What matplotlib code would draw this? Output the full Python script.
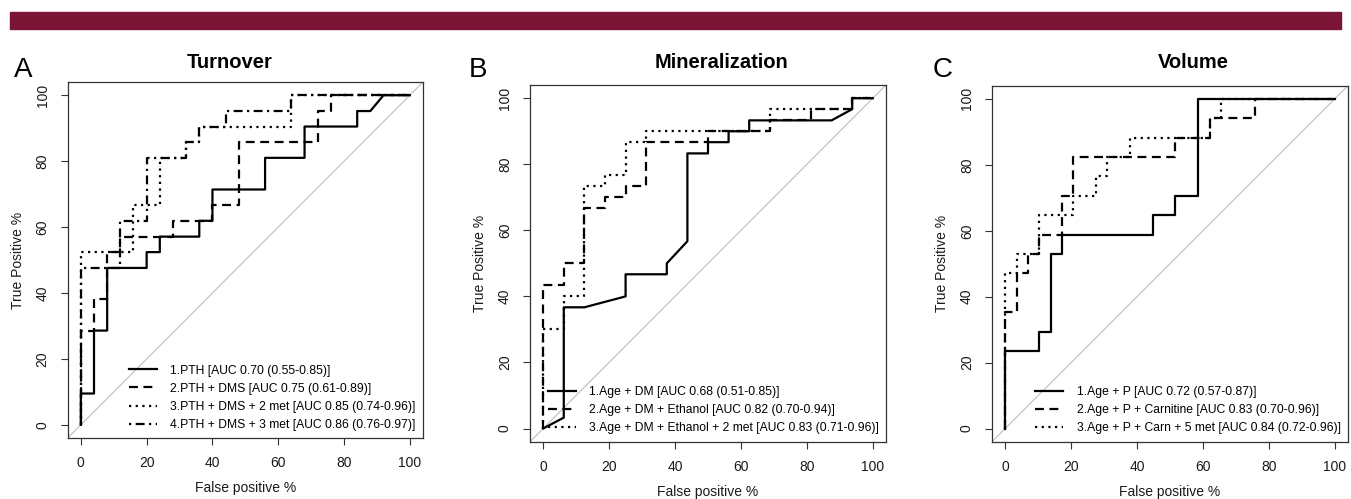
import numpy as np
import matplotlib.pyplot as plt
from matplotlib.patches import Rectangle

plt.rcParams['font.family'] = ['Liberation Sans', 'DejaVu Sans']

# ---- A: Turnover ----
a1_fpr = [0, 0, 4, 4, 8, 8, 20, 20, 24, 24, 36, 36, 40, 40, 56, 56, 68, 68, 84, 84, 88, 92, 100]
a1_tpr = [0, 9.5, 9.5, 28.6, 28.6, 47.6, 47.6, 52.4, 52.4, 57.1, 57.1, 61.9, 61.9, 71.4, 71.4, 81, 81, 90.5, 90.5, 95.2, 95.2, 100, 100]
a2_fpr = [0, 0, 4, 4, 8, 8, 12, 12, 28, 28, 40, 40, 48, 48, 72, 72, 76, 76, 100]
a2_tpr = [0, 28.6, 28.6, 38.1, 38.1, 52.4, 52.4, 57.1, 57.1, 61.9, 61.9, 66.7, 66.7, 85.7, 85.7, 95.2, 95.2, 100, 100]
a3_fpr = [0, 0, 16, 16, 24, 24, 32, 32, 36, 36, 64, 64, 100]
a3_tpr = [0, 52.4, 52.4, 66.7, 66.7, 81, 81, 85.7, 85.7, 90.5, 90.5, 100, 100]
a4_fpr = [0, 0, 12, 12, 20, 20, 32, 32, 36, 36, 44, 44, 64, 64, 100]
a4_tpr = [0, 47.6, 47.6, 61.9, 61.9, 81, 81, 85.7, 85.7, 90.5, 90.5, 95.2, 95.2, 100, 100]
a_labels = ["1.PTH [AUC 0.70 (0.55-0.85)]",
            "2.PTH + DMS [AUC 0.75 (0.61-0.89)]",
            "3.PTH + DMS + 2 met [AUC 0.85 (0.74-0.96)]",
            "4.PTH + DMS + 3 met [AUC 0.86 (0.76-0.97)]"]

# ---- B: Mineralization ----
b1_fpr = [0, 6.25, 6.25, 12.5, 25, 25, 37.5, 37.5, 43.75, 43.75, 50, 50, 56.25, 56.25, 62.5, 62.5, 87.5, 93.75, 93.75, 100]
b1_tpr = [0, 3.3, 36.7, 36.7, 40, 46.7, 46.7, 50, 56.7, 83.3, 83.3, 86.7, 86.7, 90, 90, 93.3, 93.3, 96.7, 100, 100]
b2_fpr = [0, 0, 6.25, 6.25, 12.5, 12.5, 18.75, 18.75, 25, 25, 31.25, 31.25, 50, 50, 68.75, 68.75, 81.25, 81.25, 93.75, 93.75, 100]
b2_tpr = [0, 43.3, 43.3, 50, 50, 66.7, 66.7, 70, 70, 73.3, 73.3, 86.7, 86.7, 90, 90, 93.3, 93.3, 96.7, 96.7, 100, 100]
b3_fpr = [0, 0, 6.25, 6.25, 12.5, 12.5, 18.75, 18.75, 25, 25, 31.25, 31.25, 68.75, 68.75, 93.75, 93.75, 100]
b3_tpr = [0, 30, 30, 40, 40, 73.3, 73.3, 76.7, 76.7, 86.7, 86.7, 90, 90, 96.7, 96.7, 100, 100]
b_labels = ["1.Age + DM [AUC 0.68 (0.51-0.85)]",
            "2.Age + DM + Ethanol [AUC 0.82 (0.70-0.94)]",
            "3.Age + DM + Ethanol + 2 met [AUC 0.83 (0.71-0.96)]"]

# ---- C: Volume ----
c1_fpr = [0, 0, 10.3, 10.3, 13.8, 13.8, 17.2, 17.2, 44.8, 44.8, 51.7, 51.7, 58.6, 58.6, 100]
c1_tpr = [0, 23.5, 23.5, 29.4, 29.4, 52.9, 52.9, 58.8, 58.8, 64.7, 64.7, 70.6, 70.6, 100, 100]
c2_fpr = [0, 0, 3.45, 3.45, 6.9, 6.9, 10.3, 10.3, 17.2, 17.2, 20.7, 20.7, 51.7, 51.7, 62.1, 62.1, 75.9, 75.9, 100]
c2_tpr = [0, 35.3, 35.3, 47.1, 47.1, 52.9, 52.9, 58.8, 58.8, 70.6, 70.6, 82.4, 82.4, 88.2, 88.2, 94.1, 94.1, 100, 100]
c3_fpr = [0, 0, 3.45, 3.45, 10.3, 10.3, 20.7, 20.7, 27.6, 27.6, 31.0, 31.0, 37.9, 37.9, 62.1, 62.1, 65.5, 65.5, 100]
c3_tpr = [0, 47.1, 47.1, 52.9, 52.9, 64.7, 64.7, 70.6, 70.6, 76.5, 76.5, 82.4, 82.4, 88.2, 88.2, 94.1, 94.1, 100, 100]
c_labels = ["1.Age + P [AUC 0.72 (0.57-0.87)]",
            "2.Age + P + Carnitine [AUC 0.83 (0.70-0.96)]",
            "3.Age + P + Carn + 5 met [AUC 0.84 (0.72-0.96)]"]

ticks = [0, 20, 40, 60, 80, 100]
styles = ['-', (0, (4, 2.5)), (0, (1, 2)), (0, (1, 2, 4, 2))]
txt = '#1a1a1a'

fig = plt.figure(figsize=(13.51, 4.99), dpi=100)
fig.patches.append(Rectangle((10 / 1351, 1 - 29 / 499), 1331 / 1351, 17 / 499,
                             transform=fig.transFigure, color='#7a1535', zorder=0))

panels = [
    ([0.0501, 0.1222, 0.2630, 0.7134], 'A', 'Turnover', 230,
     [(a1_fpr, a1_tpr), (a2_fpr, a2_tpr), (a3_fpr, a3_tpr), (a4_fpr, a4_tpr)], a_labels),
    ([0.3923, 0.1148, 0.2635, 0.7148], 'B', 'Mineralization', 722,
     [(b1_fpr, b1_tpr), (b2_fpr, b2_tpr), (b3_fpr, b3_tpr)], b_labels),
    ([0.7343, 0.1148, 0.2633, 0.7134], 'C', 'Volume', 1193,
     [(c1_fpr, c1_tpr), (c2_fpr, c2_tpr), (c3_fpr, c3_tpr)], c_labels),
]
letter_x = {'A': 14, 'B': 469, 'C': 933}

for rect, letter, title, title_x, curves, labels in panels:
    ax = fig.add_axes(rect)
    ax.axline((0, 0), slope=1, color='#c4c4c4', lw=0.9, zorder=1)
    for (fpr, tpr), ls, lab in zip(curves, styles, labels):
        ax.plot(fpr, tpr, color='black', lw=1.6, linestyle=ls, label=lab, zorder=2)
    ax.set_xlim(-4, 104)
    ax.set_ylim(-4, 104)
    ax.set_xticks(ticks)
    ax.set_yticks(ticks)
    ax.tick_params(direction='out', length=5, width=0.8, color='#333333',
                   labelsize=10, labelcolor=txt, pad=8)
    for lab in ax.get_yticklabels():
        lab.set_rotation(90)
        lab.set_va('center')
    for s in ax.spines.values():
        s.set_color('#333333')
        s.set_linewidth(0.9)
    ax.set_xlabel('False positive %', fontsize=10, color=txt, va='center')
    ax.set_ylabel('True Positive %', fontsize=10, color=txt, va='center')
    ax.xaxis.set_label_coords(0.5, -0.14)
    ax.yaxis.set_label_coords(-0.141, 0.5)
    ax.legend(loc='lower right', frameon=False, fontsize=8.7, handlelength=2.3,
              handletextpad=1.1, labelspacing=0.5, borderaxespad=0.4, borderpad=0.2)
    fig.text(title_x / 1351, 1 - 62 / 499, title, fontsize=14.5, fontweight='bold',
             ha='center', va='center', color='black')
    fig.text(letter_x[letter] / 1351, 1 - 77 / 499, letter, fontsize=20,
             ha='left', va='baseline', color='black')

plt.savefig('out.png', dpi=100)
